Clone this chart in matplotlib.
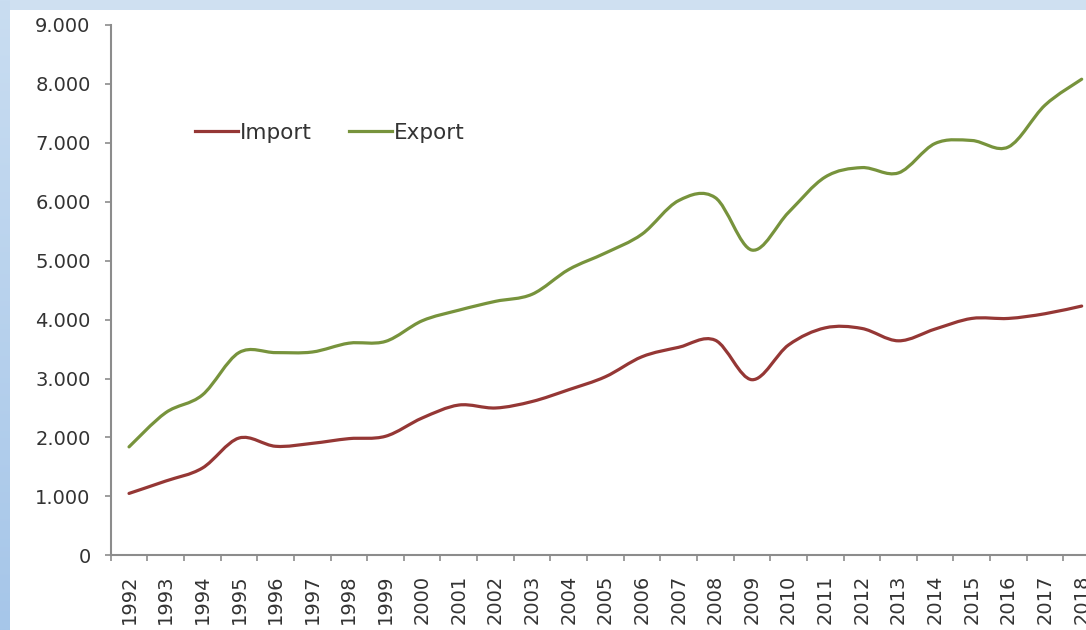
import matplotlib
matplotlib.use("Agg")
import matplotlib.pyplot as plt
import numpy as np
from matplotlib.path import Path
from matplotlib.patches import PathPatch, Rectangle
from matplotlib.lines import Line2D

# values
years = [str(y) for y in range(1992, 2019)]
import_vals = [1050, 1260, 1480, 1990, 1850, 1900, 1980, 2020, 2330, 2550,
               2500, 2610, 2810, 3030, 3370, 3530, 3650, 2980, 3570, 3860,
               3850, 3640, 3840, 4020, 4020, 4100, 4230]
export_vals = [1840, 2420, 2720, 3440, 3440, 3450, 3600, 3630, 3980, 4160,
               4310, 4430, 4850, 5130, 5450, 6020, 6070, 5180, 5820, 6420,
               6580, 6490, 6990, 7040, 6930, 7640, 8080]
y_ticks = [0, 1000, 2000, 3000, 4000, 5000, 6000, 7000, 8000, 9000]
y_labels = ["0", "1.000", "2.000", "3.000", "4.000", "5.000",
            "6.000", "7.000", "8.000", "9.000"]

IMPORT_COLOR = "#953735"
EXPORT_COLOR = "#77933c"
TEXT_COLOR = "#333333"
W, H = 1086, 630


def smooth_path(xs, ys, k=1/6):
    # Catmull-Rom style cubic bezier through the data points (like Excel smoothed lines)
    xs = np.asarray(xs, float)
    ys = np.asarray(ys, float)
    n = len(xs)
    verts = [(xs[0], ys[0])]
    codes = [Path.MOVETO]
    for i in range(n - 1):
        p0 = i - 1 if i > 0 else i
        p3 = i + 2 if i + 2 < n else i + 1
        c1 = (xs[i] + (xs[i + 1] - xs[p0]) * k, ys[i] + (ys[i + 1] - ys[p0]) * k)
        c2 = (xs[i + 1] - (xs[p3] - xs[i]) * k, ys[i + 1] - (ys[p3] - ys[i]) * k)
        verts += [c1, c2, (xs[i + 1], ys[i + 1])]
        codes += [Path.CURVE4] * 3
    return Path(verts, codes)


fig = plt.figure(figsize=(W / 100, H / 100), dpi=100, facecolor="#cfe0f1")

# white panel behind everything
fig.patches.append(Rectangle((10 / W, 0), 1, 1 - 10 / H, transform=fig.transFigure,
                             facecolor="white", edgecolor="none", zorder=-10))

# blue gradient strip on the left edge
bg = fig.add_axes([0, 0, 10 / W, 1])
grad = np.linspace(0, 1, 256).reshape(-1, 1)
bg.imshow(grad, aspect="auto", cmap=matplotlib.colors.LinearSegmentedColormap.from_list(
    "strip", ["#c9ddf1", "#a6c6e9"]), extent=[0, 1, 0, 1])
bg.axis("off")

ax = fig.add_axes([110.7 / W, (H - 555.3) / H, 989.3 / W, 530.3 / H])
ax.set_facecolor("none")

x = np.arange(len(years))
for vals, col in [(import_vals, IMPORT_COLOR), (export_vals, EXPORT_COLOR)]:
    ax.add_patch(PathPatch(smooth_path(x, vals), fill=False, edgecolor=col,
                           linewidth=2.3, capstyle="round", joinstyle="round"))

ax.set_xlim(-0.5, len(years) - 0.5)
ax.set_ylim(0, 9000)

ax.set_yticks(y_ticks, labels=y_labels)
ax.set_xticks(x, labels=years, rotation=90)
ax.set_xticks(np.arange(-0.5, len(years)), minor=True)

for side in ["top", "right"]:
    ax.spines[side].set_visible(False)
for side in ["left", "bottom"]:
    ax.spines[side].set_color("#8c8c8c")
    ax.spines[side].set_linewidth(1.5)

ax.tick_params(axis="y", length=4.5, width=1.2, color="#8c8c8c", pad=10,
               labelsize=14, labelcolor=TEXT_COLOR)
ax.tick_params(axis="x", which="major", length=0, pad=14,
               labelsize=14, labelcolor=TEXT_COLOR)
ax.tick_params(axis="x", which="minor", length=4.5, width=1.2, color="#8c8c8c")

handles = [Line2D([], [], color=IMPORT_COLOR, lw=2.3),
           Line2D([], [], color=EXPORT_COLOR, lw=2.3)]
fig.legend(handles, ["Import", "Export"], loc="center left",
           bbox_to_anchor=(195 / W, 1 - 133 / H), ncol=2, frameon=False,
           handlelength=2.0, handletextpad=0.1, columnspacing=1.7,
           borderpad=0, borderaxespad=0, fontsize=15.5, labelcolor=TEXT_COLOR)

fig.savefig("out.png", dpi=100, facecolor=fig.get_facecolor())
